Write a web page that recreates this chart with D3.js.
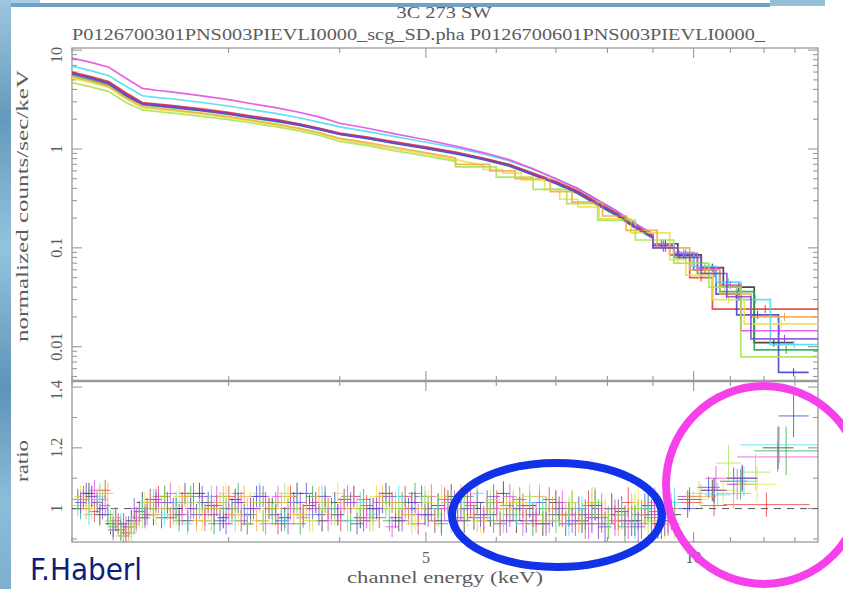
<!DOCTYPE html>
<html>
<head>
<meta charset="utf-8">
<style>
    body { margin: 0; background: white; }
    svg { display: block; }
    .pgtext {
        font-family: 'Liberation Serif', 'DejaVu Serif', serif;
        fill: #5c5c5c;
    }
    .credit {
        font-family: 'DejaVu Sans Condensed', 'DejaVu Sans', sans-serif;
        font-stretch: condensed;
        fill: #0e1e7c;
    }
</style>
</head>
<body>
<svg width="843" height="589"></svg>

<script src="https://d3js.org/d3.v7.min.js"></script>
<script>
    // ---------- data ----------
    let title = "3C 273 SW"
    let subtitle = "P0126700301PNS003PIEVLI0000_scg_SD.pha P0126700601PNS003PIEVLI0000_"
    let xTitle = "channel energy (keV)"
    let yTitleTop = "normalized counts/sec/keV"
    let yTitleBottom = "ratio"
    let credit = "F.Haberl"

    let xLabelTicks = [5, 10]
    let xMinorTicks = [2, 3, 4, 6, 7, 8, 9, 11, 12, 13]
    let yTopLabelTicks = [0.01, 0.1, 1, 10]
    let yTopLabelText = ["0.01", "0.1", "1", "10"]
    let ratioLabelTicks = [1, 1.2, 1.4]
    let ratioLabelText = ["1", "1.2", "1.4"]
    let ratioMinorTicks = [0.9, 1.1, 1.3]

    let seriesNames = ["black", "red", "green", "blue", "cyan", "magenta", "yellow", "orange", "lightgreen", "purple"]

    // upper panel: counts on a shared energy grid, then wide bins [eLo, eHi, value]
    let specEnergy = [2.0, 2.1, 2.2, 2.3, 2.4, 2.5, 2.6, 2.8, 3.0, 3.2, 3.4, 3.6, 3.8, 4.0, 4.3, 4.6, 5.0, 5.4, 5.8, 6.2, 6.6, 7.0, 7.4, 7.8, 8.2, 8.6, 9.0]

    let specBlack = [5.9, 5.3, 4.7, 3.6, 2.9, 2.8, 2.7, 2.5, 2.3, 2.1, 1.95, 1.78, 1.6, 1.43, 1.3, 1.17, 1.03, 0.92, 0.8, 0.69, 0.56, 0.46, 0.37, 0.28, 0.22, 0.165, 0.13]
    let specRed = [6.0, 5.4, 4.8, 3.7, 2.95, 2.85, 2.75, 2.55, 2.34, 2.14, 1.98, 1.8, 1.62, 1.45, 1.32, 1.19, 1.05, 0.93, 0.81, 0.7, 0.57, 0.47, 0.38, 0.29, 0.225, 0.17, 0.133]
    let specGreen = [5.6, 5.0, 4.45, 3.4, 2.8, 2.7, 2.6, 2.42, 2.23, 2.04, 1.89, 1.73, 1.56, 1.4, 1.27, 1.14, 1.01, 0.89, 0.78, 0.67, 0.545, 0.445, 0.355, 0.27, 0.21, 0.158, 0.125]
    let specBlue = [5.8, 5.2, 4.6, 3.5, 2.85, 2.75, 2.65, 2.46, 2.27, 2.07, 1.92, 1.75, 1.58, 1.41, 1.28, 1.15, 1.02, 0.9, 0.79, 0.68, 0.55, 0.45, 0.36, 0.275, 0.215, 0.16, 0.127]
    let specCyan = [6.9, 6.2, 5.5, 4.3, 3.45, 3.3, 3.2, 2.95, 2.72, 2.48, 2.28, 2.07, 1.86, 1.67, 1.5, 1.34, 1.17, 1.03, 0.89, 0.76, 0.62, 0.5, 0.4, 0.305, 0.235, 0.175, 0.138]
    let specMagenta = [8.3, 7.5, 6.7, 5.2, 4.1, 3.9, 3.75, 3.45, 3.15, 2.85, 2.6, 2.35, 2.1, 1.82, 1.62, 1.43, 1.24, 1.07, 0.92, 0.78, 0.63, 0.5, 0.4, 0.305, 0.235, 0.175, 0.138]
    let specYellow = [5.2, 4.7, 4.2, 3.2, 2.62, 2.5, 2.42, 2.25, 2.07, 1.9, 1.74, 1.58, 1.42, 1.24, 1.12, 1.0, 0.89, 0.78, 0.68]
    let specOrange = [5.4, 4.85, 4.3, 3.3, 2.7, 2.58, 2.48, 2.3, 2.12, 1.94, 1.78, 1.62, 1.46, 1.28, 1.16, 1.04, 0.92, 0.81]
    let specLightgreen = [4.7, 4.25, 3.8, 2.95, 2.48, 2.38, 2.3, 2.14, 1.98, 1.82, 1.67, 1.52, 1.37, 1.19, 1.08, 0.96, 0.85, 0.75]
    let specPurple = [5.8, 5.25, 4.65, 3.55, 2.9, 2.78, 2.68, 2.48, 2.28, 2.09, 1.93, 1.76, 1.59, 1.42, 1.29, 1.16, 1.02, 0.91, 0.79, 0.68, 0.555, 0.455, 0.365, 0.278, 0.218, 0.163, 0.128]

    let tailBlack = [[9.0, 9.6, 0.11], [9.6, 10.2, 0.085], [10.2, 10.8, 0.063], [10.8, 11.7, 0.04], [11.7, 12.95, 0.011]]
    let tailRed = [[9.0, 9.4, 0.11], [9.4, 9.9, 0.085], [9.9, 10.5, 0.05], [10.5, 13.8, 0.024]]
    let tailGreen = [[9.0, 9.5, 0.1], [9.5, 10.1, 0.08], [10.1, 10.7, 0.055], [10.7, 11.7, 0.036], [11.7, 13.8, 0.0093]]
    let tailBlue = [[9.0, 9.5, 0.105], [9.5, 10.0, 0.085], [10.0, 10.6, 0.06], [10.6, 11.18, 0.034], [11.18, 12.46, 0.021], [12.46, 13.47, 0.0055]]
    let tailCyan = [[9.0, 9.5, 0.11], [9.5, 10.0, 0.09], [10.0, 10.6, 0.065], [10.6, 11.3, 0.045], [11.3, 12.2, 0.03], [12.2, 13.8, 0.0105]]
    let tailMagenta = [[9.0, 9.5, 0.11], [9.5, 10.1, 0.088], [10.1, 10.7, 0.062], [10.7, 11.3, 0.042], [11.3, 13.8, 0.0145]]
    let tailYellow = [[5.8, 6.1, 0.62], [6.1, 6.4, 0.57], [6.4, 6.8, 0.486], [6.8, 7.07, 0.39], [7.07, 7.41, 0.31], [7.41, 7.83, 0.26], [7.83, 8.5, 0.196], [8.5, 9.4, 0.142], [9.4, 9.8, 0.076], [9.8, 10.5, 0.053], [10.5, 11.4, 0.03], [11.4, 13.8, 0.017]]
    let tailOrange = [[5.4, 5.9, 0.7], [5.9, 6.3, 0.6], [6.3, 6.9, 0.5], [6.9, 7.3, 0.37], [7.3, 7.9, 0.29], [7.9, 8.4, 0.21], [8.4, 9.1, 0.15], [9.1, 9.9, 0.1], [9.9, 10.7, 0.06], [10.7, 11.6, 0.034], [11.6, 13.8, 0.02]]
    let tailLightgreen = [[5.4, 6.0, 0.66], [6.0, 6.6, 0.52], [6.6, 7.2, 0.39], [7.2, 7.8, 0.28], [7.8, 8.6, 0.19], [8.6, 9.5, 0.12], [9.5, 10.4, 0.07], [10.4, 11.3, 0.04], [11.3, 13.8, 0.0079]]
    let tailPurple = [[9.0, 9.6, 0.1], [9.6, 10.2, 0.08], [10.2, 10.9, 0.055], [10.9, 11.6, 0.032], [11.6, 13.8, 0.012]]

    // lower panel: ratio on four staggered energy grids
    let ratioEnergyA = [2.03, 2.09, 2.15, 2.21, 2.27, 2.33, 2.40, 2.47, 2.54, 2.62, 2.70, 2.78, 2.87, 2.96, 3.05, 3.15, 3.25, 3.36, 3.47, 3.58, 3.70, 3.82, 3.95, 4.08, 4.22, 4.36, 4.51, 4.66, 4.82, 4.99, 5.16, 5.34, 5.52, 5.71, 5.91, 6.11, 6.32, 6.54, 6.77, 7.00, 7.24, 7.49, 7.75, 8.02, 8.30, 8.59, 8.89, 9.20, 9.52]
    let ratioEnergyB = [2.06, 2.12, 2.18, 2.24, 2.30, 2.36, 2.43, 2.50, 2.58, 2.66, 2.74, 2.82, 2.91, 3.00, 3.10, 3.20, 3.30, 3.41, 3.52, 3.64, 3.76, 3.88, 4.01, 4.15, 4.29, 4.43, 4.58, 4.74, 4.90, 5.07, 5.25, 5.43, 5.61, 5.81, 6.01, 6.21, 6.43, 6.65, 6.88, 7.12, 7.36, 7.62, 7.88, 8.16, 8.44, 8.74, 9.04, 9.36]
    let ratioEnergyC = [2.045, 2.105, 2.165, 2.225, 2.285, 2.35, 2.415, 2.485, 2.56, 2.64, 2.72, 2.80, 2.89, 2.98, 3.075, 3.175, 3.28, 3.39, 3.50, 3.61, 3.73, 3.85, 3.98, 4.115, 4.255, 4.40, 4.55, 4.70, 4.86, 5.03, 5.205, 5.385, 5.565, 5.76, 5.96, 6.16, 6.375, 6.595, 6.825, 7.06, 7.30, 7.555, 7.815, 8.09, 8.37, 8.665, 8.965, 9.28]
    let ratioEnergyD = [2.075, 2.135, 2.195, 2.255, 2.315, 2.38, 2.45, 2.52, 2.60, 2.68, 2.76, 2.845, 2.935, 3.025, 3.125, 3.225, 3.33, 3.44, 3.55, 3.67, 3.79, 3.915, 4.045, 4.185, 4.325, 4.47, 4.62, 4.78, 4.945, 5.115, 5.295, 5.475, 5.66, 5.86, 6.06, 6.265, 6.485, 6.71, 6.94, 7.18, 7.43, 7.685, 7.95, 8.23, 8.52, 8.815, 9.12, 9.44]

    let ratioBlack = [1.03, 1.05, 0.98, 0.95, 0.93, 0.96, 1.02, 0.98, 1.04, 1.00, 0.96, 1.05, 1.01, 0.97, 1.03, 0.95, 1.04, 1.00, 0.97, 1.05, 1.01, 0.96, 1.02, 1.04, 0.97, 1.00, 1.05, 0.96, 1.02, 0.98, 1.01, 1.04, 0.96, 1.02, 0.98, 1.05, 0.96, 1.01, 0.95, 1.02, 0.98, 0.96, 1.01, 0.95, 0.99, 0.96, 1.01, 0.95, 0.98]
    let ratioRed = [1.04, 0.99, 1.06, 0.96, 0.92, 0.97, 1.00, 1.04, 0.97, 1.02, 1.05, 0.98, 1.01, 1.04, 0.96, 1.00, 1.02, 0.95, 1.04, 0.98, 1.02, 1.00, 0.96, 1.04, 1.01, 0.97, 1.02, 1.04, 0.95, 1.00, 1.03, 0.97, 1.01, 0.96, 1.02, 0.98, 1.01, 0.96, 1.03, 0.98, 0.95, 1.01, 0.97, 0.98, 1.02, 0.95, 0.99, 0.97]
    let ratioGreen = [1.00, 1.04, 1.03, 0.94, 0.91, 0.95, 0.98, 1.02, 1.00, 0.96, 1.04, 1.02, 0.95, 1.00, 1.05, 0.98, 0.96, 1.02, 1.00, 0.95, 1.04, 1.02, 0.98, 0.96, 1.03, 1.00, 0.96, 1.02, 1.05, 1.00, 0.95, 1.00, 1.04, 0.98, 0.96, 1.01, 1.03, 0.95, 1.00, 0.98, 1.02, 0.95, 0.98, 1.00, 0.94, 0.98, 0.97, 1.00]
    let ratioBlue = [1.05, 1.02, 0.98, 0.95, 0.94, 0.99, 1.03, 0.97, 1.00, 1.05, 0.98, 1.02, 0.96, 1.00, 0.98, 1.04, 1.00, 0.96, 1.02, 1.05, 0.98, 1.00, 1.03, 0.95, 1.00, 1.02, 0.97, 1.00, 1.04, 0.96, 1.02, 1.00, 0.97, 1.02, 0.95, 1.00, 0.96, 1.02, 0.98, 0.95, 1.00, 0.97, 0.94, 0.98, 0.96, 1.00, 0.95, 0.98]
    let ratioCyan = [1.01, 0.98, 1.04, 0.96, 0.95, 0.92, 1.00, 1.03, 0.98, 1.02, 0.95, 1.00, 1.04, 1.02, 0.96, 1.00, 1.05, 0.98, 0.96, 1.02, 0.98, 1.04, 1.00, 0.96, 1.02, 0.98, 1.00, 1.04, 0.98, 1.02, 1.00, 0.96, 1.02, 1.05, 1.00, 0.96, 0.98, 1.02, 1.00, 0.96, 0.95, 1.00, 1.02, 0.96, 0.98, 0.95, 1.00, 0.96, 1.02]
    let ratioMagenta = [1.03, 1.06, 1.01, 0.97, 0.94, 0.96, 0.98, 1.02, 1.05, 0.98, 1.00, 0.96, 1.04, 0.98, 1.02, 1.00, 0.95, 1.04, 1.00, 0.97, 1.02, 0.96, 1.00, 1.04, 0.97, 1.02, 0.94, 1.00, 0.98, 1.04, 1.00, 0.96, 1.02, 0.97, 1.00, 1.04, 0.95, 0.98, 0.96, 1.02, 0.98, 0.95, 1.00, 0.96, 0.95, 0.98, 1.02, 0.96]
    let ratioYellow = [1.04, 1.00, 1.03, 0.97, 0.93, 0.95, 1.02, 0.98, 1.00, 1.04, 1.02, 0.96, 1.00, 1.05, 0.98, 1.02, 0.96, 1.00, 1.04, 0.98, 0.96, 1.02, 1.05, 1.00, 0.96, 1.04, 1.00, 0.98, 0.96, 1.02, 1.04, 1.00, 0.98, 0.96, 1.03, 1.00, 1.02, 0.98, 0.96, 1.00, 1.02, 0.98, 0.95, 1.00, 0.96, 1.02, 0.98, 0.95]
    let ratioOrange = [1.00, 1.03, 1.05, 0.95, 0.92, 0.97, 1.02, 1.00, 0.98, 1.04, 0.96, 1.00, 1.02, 0.98, 1.04, 0.96, 1.00, 1.02, 0.98, 1.00, 1.04, 0.98, 1.02, 1.00, 0.96, 1.04, 1.02, 0.98, 1.00, 0.96, 1.02, 1.04, 0.98, 1.00, 0.96, 1.02, 0.98, 1.04, 1.00, 0.98, 0.96, 1.02, 0.98, 0.96, 1.00, 0.98, 0.96, 1.00]
    let ratioLightgreen = [1.03, 1.01, 1.05, 0.96, 0.91, 0.94, 0.97, 1.00, 1.04, 0.98, 1.02, 1.00, 0.96, 1.04, 1.00, 0.95, 1.02, 0.98, 1.05, 1.00, 0.96, 1.00, 0.98, 1.04, 1.00, 0.96, 1.02, 1.00, 0.95, 1.04, 0.98, 1.02, 1.00, 0.96, 1.02, 0.98, 1.00, 1.04, 0.98, 0.96, 1.00, 0.98, 1.02, 0.95, 0.98, 1.00, 0.96, 0.98, 0.95]
    let ratioPurple = [1.02, 1.04, 1.00, 0.93, 0.95, 1.00, 0.97, 1.03, 1.02, 0.98, 1.00, 1.04, 0.98, 0.95, 1.02, 1.00, 1.04, 0.98, 0.95, 1.02, 1.00, 1.04, 0.98, 1.02, 0.96, 1.00, 1.04, 0.96, 1.02, 0.98, 0.96, 1.02, 1.00, 0.98, 1.04, 0.96, 1.00, 0.98, 0.95, 1.00, 0.96, 0.98, 0.95, 1.00, 0.96, 0.94, 0.98, 0.96]

    // error size of the ratio points by energy band [eLo, eHi, err]
    let ratioErrBands = [[2, 5, 0.035], [5, 7.5, 0.04], [7.5, 10, 0.05]]

    // high energy ratio points [eLo, eHi, ratio, err]
    let hiBlack = [[9.6, 10.1, 1.03, 0.03], [10.2, 10.8, 1.06, 0.035], [10.9, 11.8, 1.1, 0.04], [11.96, 12.95, 1.2, 0.07]]
    let hiRed = [[9.6, 10.2, 1.02, 0.03], [10.2, 10.9, 1.01, 0.035], [10.8, 13.5, 1.013, 0.04]]
    let hiGreen = [[9.6, 10.2, 1.04, 0.03], [10.2, 10.9, 1.06, 0.04], [10.9, 11.7, 1.08, 0.05], [11.7, 13.8, 1.19, 0.08]]
    let hiBlue = [[9.6, 10.1, 1.0, 0.03], [10.1, 10.7, 1.07, 0.035], [10.7, 11.5, 1.09, 0.045], [12.46, 13.47, 1.305, 0.07]]
    let hiCyan = [[9.6, 10.1, 1.03, 0.03], [10.3, 11.0, 1.045, 0.04], [11.0, 11.8, 1.09, 0.05], [11.3, 13.8, 1.21, 0.06]]
    let hiMagenta = [[9.6, 10.2, 1.04, 0.03], [10.3, 10.9, 1.1, 0.04], [10.9, 11.5, 1.08, 0.05], [11.2, 13.8, 1.17, 0.05]]
    let hiYellow = [[9.6, 10.4, 1.03, 0.03], [10.4, 11.2, 1.06, 0.04], [11.2, 12.4, 1.08, 0.06]]
    let hiOrange = [[9.8, 10.6, 1.04, 0.04], [10.6, 11.6, 1.05, 0.05]]
    let hiLightgreen = [[9.8, 10.5, 1.05, 0.04], [10.6, 11.3, 1.15, 0.06], [11.3, 12.2, 1.12, 0.06]]
    let hiPurple = [[9.6, 10.2, 1.03, 0.03], [10.2, 10.9, 1.06, 0.04], [10.9, 11.8, 1.1, 0.045]]

    // ---------- styling ----------
    let palette = ["#2a2a2a", "#e8322e", "#22a844", "#3a3ad0", "#45dced", "#e046e0", "#e6e040", "#f2a640", "#a4e24a", "#8a40d8"]

    let series = [
        { spec: specBlack, tail: tailBlack, ratio: ratioBlack, grid: ratioEnergyA, hi: hiBlack },
        { spec: specRed, tail: tailRed, ratio: ratioRed, grid: ratioEnergyB, hi: hiRed },
        { spec: specGreen, tail: tailGreen, ratio: ratioGreen, grid: ratioEnergyC, hi: hiGreen },
        { spec: specBlue, tail: tailBlue, ratio: ratioBlue, grid: ratioEnergyD, hi: hiBlue },
        { spec: specCyan, tail: tailCyan, ratio: ratioCyan, grid: ratioEnergyA, hi: hiCyan },
        { spec: specMagenta, tail: tailMagenta, ratio: ratioMagenta, grid: ratioEnergyB, hi: hiMagenta },
        { spec: specYellow, tail: tailYellow, ratio: ratioYellow, grid: ratioEnergyC, hi: hiYellow },
        { spec: specOrange, tail: tailOrange, ratio: ratioOrange, grid: ratioEnergyD, hi: hiOrange },
        { spec: specLightgreen, tail: tailLightgreen, ratio: ratioLightgreen, grid: ratioEnergyA, hi: hiLightgreen },
        { spec: specPurple, tail: tailPurple, ratio: ratioPurple, grid: ratioEnergyC, hi: hiPurple }
    ]
    series.forEach((s, i) => { s.name = seriesNames[i]; s.color = palette[i] })

    let pLeft = 72, pRight = 818, pTop = 48, pMid = 381, pBottom = 542

    let svg = d3.select("svg")

    // ---------- slide background ----------
    let defs = svg.append("defs")
    let grad = defs.append("linearGradient").attr("id", "strip")
        .attr("x1", 0).attr("y1", 0).attr("x2", 0).attr("y2", 1)
    grad.selectAll("stop")
        .data([[0, "#9cc6de"], [0.2, "#6599bc"], [0.42, "#93c3de"], [0.66, "#5f94b8"], [0.85, "#8cbcd8"], [1, "#7cb0d0"]])
        .join("stop")
        .attr("offset", d => d[0])
        .attr("stop-color", d => d[1])

    svg.append("rect").attr("x", 0).attr("y", 0).attr("width", 843).attr("height", 589).attr("fill", "white")
    svg.append("rect").attr("x", 0).attr("y", 0).attr("width", 40).attr("height", 4).attr("fill", "#a9cfe2")
    svg.append("rect").attr("x", 770).attr("y", 0).attr("width", 55).attr("height", 6).attr("fill", "#93bfd8")
    svg.append("rect").attr("x", 0).attr("y", 3).attr("width", 770).attr("height", 4).attr("fill", "#6da2c4")
    svg.append("rect").attr("x", 0).attr("y", 0).attr("width", 11).attr("height", 589).attr("fill", "url(#strip)")

    // ---------- scales ----------
    let x = d3.scaleLog().domain([2.0, 13.8]).range([pLeft, pRight])
    let yTop = d3.scaleLog().domain([0.0045, 10.5]).range([pMid, pTop])
    let yRat = d3.scaleLinear().domain([0.89, 1.42]).range([pBottom, pMid])

    defs.append("clipPath").attr("id", "clipTop")
        .append("rect").attr("x", pLeft).attr("y", pTop).attr("width", pRight - pLeft).attr("height", pMid - pTop)
    defs.append("clipPath").attr("id", "clipBot")
        .append("rect").attr("x", pLeft).attr("y", pMid).attr("width", pRight - pLeft).attr("height", pBottom - pMid)

    // ---------- frame and ticks ----------
    let frame = svg.append("g").attr("stroke", "#9a9a9a").attr("fill", "none")
    frame.append("rect").attr("x", pLeft).attr("y", pTop).attr("width", pRight - pLeft).attr("height", pBottom - pTop).attr("stroke-width", 1.3)
    frame.append("line").attr("x1", pLeft).attr("x2", pRight).attr("y1", pMid).attr("y2", pMid).attr("stroke-width", 2.6)

    function xTicks(yBase, dir) {
        let g = frame.append("g").attr("stroke-width", 1.1)
        g.append("g").selectAll("line").data(xLabelTicks).join("line")
            .attr("x1", d => x(d)).attr("x2", d => x(d))
            .attr("y1", yBase).attr("y2", yBase + dir * 10)
        g.append("g").selectAll("line").data(xMinorTicks).join("line")
            .attr("x1", d => x(d)).attr("x2", d => x(d))
            .attr("y1", yBase).attr("y2", yBase + dir * 5)
    }
    xTicks(pTop, 1)
    xTicks(pMid, -1)
    xTicks(pMid, 1)
    xTicks(pBottom, -1)

    let yTopMinor = []
    ;[0.001, 0.01, 0.1, 1].forEach(dec => {
        for (let k = 2; k <= 9; k++) yTopMinor.push(dec * k)
    })
    yTopMinor = yTopMinor.filter(v => v > 0.0045 && v < 10.5)

    function yTicks(scale, major, minor) {
        let g = frame.append("g").attr("stroke-width", 1.1)
        ;[[pLeft, 1], [pRight, -1]].forEach(([xb, dir]) => {
            g.append("g").selectAll("line").data(major).join("line")
                .attr("x1", xb).attr("x2", xb + dir * 10)
                .attr("y1", d => scale(d)).attr("y2", d => scale(d))
            g.append("g").selectAll("line").data(minor).join("line")
                .attr("x1", xb).attr("x2", xb + dir * 5)
                .attr("y1", d => scale(d)).attr("y2", d => scale(d))
        })
    }
    yTicks(yTop, yTopLabelTicks, yTopMinor)
    yTicks(yRat, ratioLabelTicks, ratioMinorTicks)

    // ---------- texts ----------
    svg.append("text").attr("class", "pgtext")
        .attr("x", 444).attr("y", 18).attr("text-anchor", "middle")
        .attr("font-size", 16).attr("textLength", 95).attr("lengthAdjust", "spacingAndGlyphs")
        .text(title)
    svg.append("text").attr("class", "pgtext")
        .attr("x", 72).attr("y", 40)
        .attr("font-size", 16).attr("textLength", 693).attr("lengthAdjust", "spacingAndGlyphs")
        .text(subtitle)

    svg.append("g").selectAll("text").data(yTopLabelTicks).join("text")
        .attr("class", "pgtext")
        .attr("transform", d => `translate(62,${d === 10 ? 55 : yTop(d)}) rotate(-90)`)
        .attr("text-anchor", "middle").attr("font-size", 16)
        .text((d, i) => yTopLabelText[i])

    svg.append("g").selectAll("text").data(ratioLabelTicks).join("text")
        .attr("class", "pgtext")
        .attr("transform", d => `translate(62,${d === 1.4 ? 390 : yRat(d)}) rotate(-90)`)
        .attr("text-anchor", "middle").attr("font-size", 16)
        .text((d, i) => ratioLabelText[i])

    svg.append("g").selectAll("text").data(xLabelTicks).join("text")
        .attr("class", "pgtext")
        .attr("x", d => x(d)).attr("y", 563)
        .attr("text-anchor", "middle").attr("font-size", 16)
        .text(d => d)

    svg.append("text").attr("class", "pgtext")
        .attr("x", 445).attr("y", 583).attr("text-anchor", "middle")
        .attr("font-size", 17).attr("textLength", 196).attr("lengthAdjust", "spacingAndGlyphs")
        .text(xTitle)
    svg.append("text").attr("class", "pgtext")
        .attr("transform", "translate(28,206) rotate(-90)").attr("text-anchor", "middle")
        .attr("font-size", 17).attr("textLength", 272).attr("lengthAdjust", "spacingAndGlyphs")
        .text(yTitleTop)
    svg.append("text").attr("class", "pgtext")
        .attr("transform", "translate(28,461) rotate(-90)").attr("text-anchor", "middle")
        .attr("font-size", 17).attr("textLength", 42).attr("lengthAdjust", "spacingAndGlyphs")
        .text(yTitleBottom)

    // ---------- upper panel spectra ----------
    let topG = svg.append("g").attr("clip-path", "url(#clipTop)")
    let line = d3.line().x(d => x(d[0])).y(d => yTop(d[1]))

    series.forEach(s => {
        let pts = s.spec.map((v, i) => [specEnergy[i], v])
        s.tail.forEach(b => { pts.push([b[0], b[2]]); pts.push([b[1], b[2]]) })
        topG.append("path")
            .attr("d", line(pts))
            .attr("fill", "none")
            .attr("stroke", s.color)
            .attr("stroke-width", 1.7)
            .attr("stroke-opacity", 0.85)
        // small error marks in the wide bins
        topG.append("g").selectAll("line").data(s.tail.filter(b => b[0] > 8.9)).join("line")
            .attr("x1", b => x(Math.sqrt(b[0] * b[1]))).attr("x2", b => x(Math.sqrt(b[0] * b[1])))
            .attr("y1", b => yTop(b[2]) - 4).attr("y2", b => yTop(b[2]) + 4)
            .attr("stroke", s.color).attr("stroke-width", 1)
    })

    // ---------- lower panel ratio ----------
    let botG = svg.append("g").attr("clip-path", "url(#clipBot)")
    botG.append("line")
        .attr("x1", pLeft).attr("x2", pRight).attr("y1", yRat(1)).attr("y2", yRat(1))
        .attr("stroke", "#555").attr("stroke-width", 1).attr("stroke-dasharray", "7,6")

    function errOf(e) {
        let band = ratioErrBands.find(b => e >= b[0] && e < b[1])
        return band ? band[2] : 0.04
    }

    series.forEach(s => {
        let g = s.grid
        let pts = []
        s.ratio.forEach((v, i) => {
            let e = g[i]
            if (e === undefined) return
            let lo = i > 0 ? Math.sqrt(g[i - 1] * e) : e * e / Math.sqrt(e * g[i + 1])
            let hi = i < g.length - 1 ? Math.sqrt(e * g[i + 1]) : e * e / Math.sqrt(g[i - 1] * e)
            pts.push([lo, hi, v, errOf(e)])
        })
        pts = pts.concat(s.hi)

        let cg = botG.append("g").attr("stroke", s.color).attr("stroke-width", 1).attr("stroke-opacity", 0.75)
        cg.append("g").selectAll("line").data(pts).join("line")
            .attr("x1", d => x(d[0])).attr("x2", d => x(d[1]))
            .attr("y1", d => yRat(d[2])).attr("y2", d => yRat(d[2]))
        cg.append("g").selectAll("line").data(pts).join("line")
            .attr("x1", d => x(Math.sqrt(d[0] * d[1]))).attr("x2", d => x(Math.sqrt(d[0] * d[1])))
            .attr("y1", d => yRat(d[2] - d[3])).attr("y2", d => yRat(d[2] + d[3]))
    })

    // ---------- slide annotations ----------
    svg.append("ellipse")
        .attr("cx", 557).attr("cy", 515).attr("rx", 105).attr("ry", 52)
        .attr("fill", "none").attr("stroke", "#1232e8").attr("stroke-width", 8)
    svg.append("ellipse")
        .attr("cx", 764).attr("cy", 485).attr("rx", 98).attr("ry", 99)
        .attr("fill", "none").attr("stroke", "#f641ea").attr("stroke-width", 8)

    svg.append("text").attr("class", "credit")
        .attr("x", 30).attr("y", 580).attr("font-size", 31)
        .text(credit)
</script>
</body>
</html>
